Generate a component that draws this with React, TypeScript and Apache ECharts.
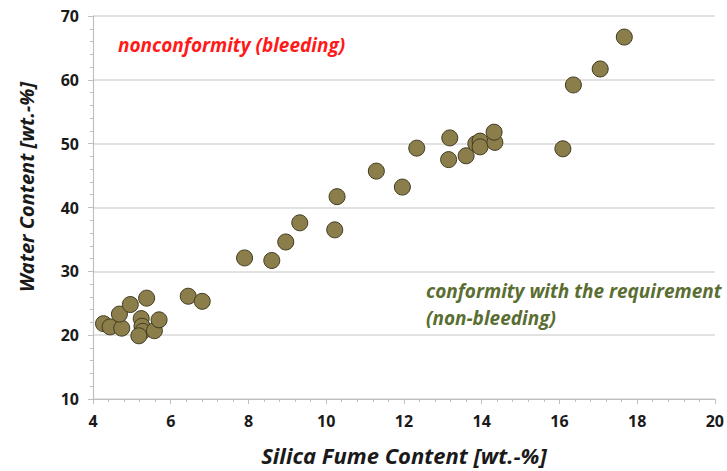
import React, { useEffect, useRef } from "react";
import * as echarts from "echarts";

const silicaFume: number[] = [
  4.27, 4.44, 4.74, 4.68, 4.96, 5.38, 5.24, 5.26, 5.28, 5.18, 5.58, 5.70,
  6.45, 6.81, 7.90, 8.60, 8.96, 9.32, 10.22, 10.28, 11.29, 11.96, 12.33,
  13.18, 13.15, 13.60, 13.85, 13.96, 13.96, 14.34, 14.32, 16.09, 16.36, 17.05, 17.67,
];
const waterContent: number[] = [
  21.8, 21.3, 21.1, 23.3, 24.8, 25.8, 22.6, 21.4, 20.6, 19.9, 20.7, 22.4,
  26.1, 25.3, 32.1, 31.7, 34.6, 37.6, 36.5, 41.7, 45.7, 43.2, 49.3,
  50.9, 47.5, 48.1, 50.0, 50.4, 49.5, 50.2, 51.8, 49.2, 59.2, 61.7, 66.7,
];

const xAxisTitle = "Silica Fume Content [wt.-%]";
const yAxisTitle = "Water Content [wt.-%]";
const noteRed = "nonconformity (bleeding)";
const noteGreen1 = "conformity with the requirement";
const noteGreen2 = "(non-bleeding)";

const FONT = "'Open Sans', Lato, sans-serif";

export default function App() {
  const ref = useRef<HTMLDivElement>(null);
  useEffect(() => {
    if (!ref.current) return;
    const chart = echarts.init(ref.current, undefined, { renderer: "svg" });
    const data = silicaFume.map((x, i) => [x, waterContent[i]]);
    chart.setOption({
      animation: false,
      backgroundColor: "#ffffff",
      grid: { left: 93, right: 8, top: 16, bottom: 69, containLabel: false },
      xAxis: {
        type: "value",
        min: 4,
        max: 20,
        interval: 2,
        name: xAxisTitle,
        nameLocation: "middle",
        nameGap: 45,
        nameTextStyle: { fontFamily: FONT, fontWeight: "bold", fontStyle: "italic", fontSize: 22, color: "#1a1a1a" },
        axisLine: { show: true, lineStyle: { color: "#bfbfbf", width: 1.2 } },
        axisTick: { show: true, length: 5, lineStyle: { color: "#bfbfbf" } },
        minorTick: { show: true, splitNumber: 5, length: 3, lineStyle: { color: "#bfbfbf" } },
        axisLabel: { fontFamily: FONT, fontWeight: "bold", fontSize: 16, color: "#1a1a1a", margin: 14 },
        splitLine: { show: false },
      },
      yAxis: {
        type: "value",
        min: 10,
        max: 70,
        interval: 10,
        axisLine: { show: true, lineStyle: { color: "#bfbfbf", width: 1.2 } },
        axisTick: { show: true, length: 5, lineStyle: { color: "#bfbfbf" } },
        minorTick: { show: true, splitNumber: 5, length: 3, lineStyle: { color: "#bfbfbf" } },
        axisLabel: { fontFamily: FONT, fontWeight: "bold", fontSize: 16, color: "#1a1a1a", margin: 14 },
        splitLine: { show: true, lineStyle: { color: "#d9d9d9", width: 1.5 } },
      },
      graphic: [
        {
          type: "text",
          x: 26,
          y: 187,
          rotation: Math.PI / 2,
          style: {
            text: yAxisTitle,
            fill: "#1a1a1a",
            font: `italic bold 20px ${FONT}`,
            align: "center",
            verticalAlign: "middle",
          },
        },
        {
          type: "text",
          left: 118,
          top: 35,
          style: { text: noteRed, fill: "#ff1a1a", font: `italic bold 19px ${FONT}` },
        },
        {
          type: "text",
          left: 426,
          top: 277,
          style: {
            text: noteGreen1 + "\n" + noteGreen2,
            fill: "#5a6e32",
            font: `italic bold 19px ${FONT}`,
            lineHeight: 27,
          },
        },
      ],
      series: [
        {
          type: "scatter",
          data,
          symbol: "circle",
          symbolSize: 16,
          itemStyle: { color: "#8b7e4b", borderColor: "#3f3b22", borderWidth: 1, opacity: 1 },
        },
      ],
    });
    return () => chart.dispose();
  }, []);
  return (
    <div
      ref={ref}
      style={{ position: "fixed", left: 0, top: 0, width: 727, height: 471 }}
    />
  );
}
